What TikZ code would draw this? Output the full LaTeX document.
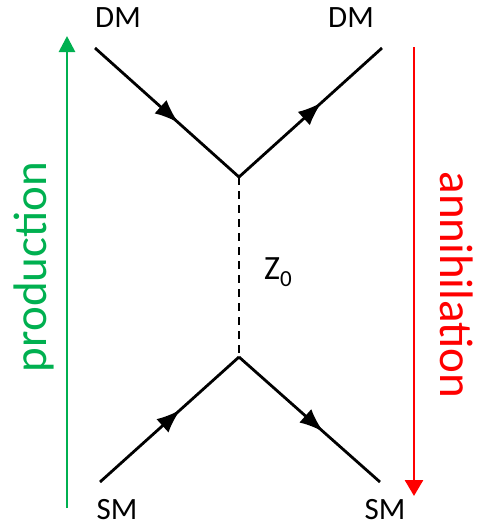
\documentclass[tikz,border=0pt]{standalone}
\usepackage{fontspec}
\setmainfont{Carlito}
\usepackage{tikz}
\usetikzlibrary{arrows.meta,decorations.markings}
\definecolor{prodgreen}{RGB}{0,176,80}
\definecolor{annred}{RGB}{255,0,0}
\tikzset{
  fermion/.style={line width=1.4pt,postaction={decorate},
    decoration={markings,mark=at position #1 with {\arrow{Latex[length=12pt,width=9pt]}}}},
  fermion/.default=0.58,
  boson/.style={line width=1.4pt,dash pattern=on 4pt off 3pt},
  lbl/.style={font=\fontsize{15.5}{18}\selectfont},
  bigtext/.style={font=\fontsize{23.5}{28}\selectfont}
}

\begin{document}
\begin{tikzpicture}[x=0.5pt,y=-0.5pt]
\useasboundingbox (0,0) rectangle (481,527);
% vertices and external legs
\coordinate (vtop) at (239,177);
\coordinate (vbot) at (239,357);
\coordinate (dmin) at (95,48);
\coordinate (dmout) at (382,48);
\coordinate (smin) at (100,482);
\coordinate (smout) at (380,482);
\node[lbl] (dmL) at (118,18) {DM};
\node[lbl] (dmR) at (351,18) {DM};
\node[lbl] (smL) at (117,510) {SM};
\node[lbl] (smR) at (385,510) {SM};

% upper vertex
\draw[fermion] (dmin) -- (vtop);
\draw[fermion] (vtop) -- (dmout);
% propagator
\draw[boson] (vtop) -- (vbot);
\node[font=\fontsize{17}{20}\selectfont] (zlbl) at (278,272)
  {Z\raisebox{-0.4ex}{\fontsize{11.5}{13}\selectfont 0}};
% lower vertex
\draw[fermion] (smin) -- (vbot);
\draw[fermion=0.6] (vbot) -- (smout);

% direction arrows
\coordinate (pbot) at (67,508);
\coordinate (ptop) at (67,36);
\draw[prodgreen,line width=1.4pt,-{Triangle[length=8pt,width=8pt]}] (pbot) -- (ptop);
\node[bigtext,prodgreen,rotate=90] (prod) at (34,267) {production};
\coordinate (atop) at (414,47);
\coordinate (abot) at (414,496);
\draw[annred,line width=1.4pt,-{Triangle[length=8pt,width=9pt]}] (atop) -- (abot);
\node[bigtext,annred,rotate=-90] (ann) at (457,285) {annihilation};
\end{tikzpicture}
\end{document}
